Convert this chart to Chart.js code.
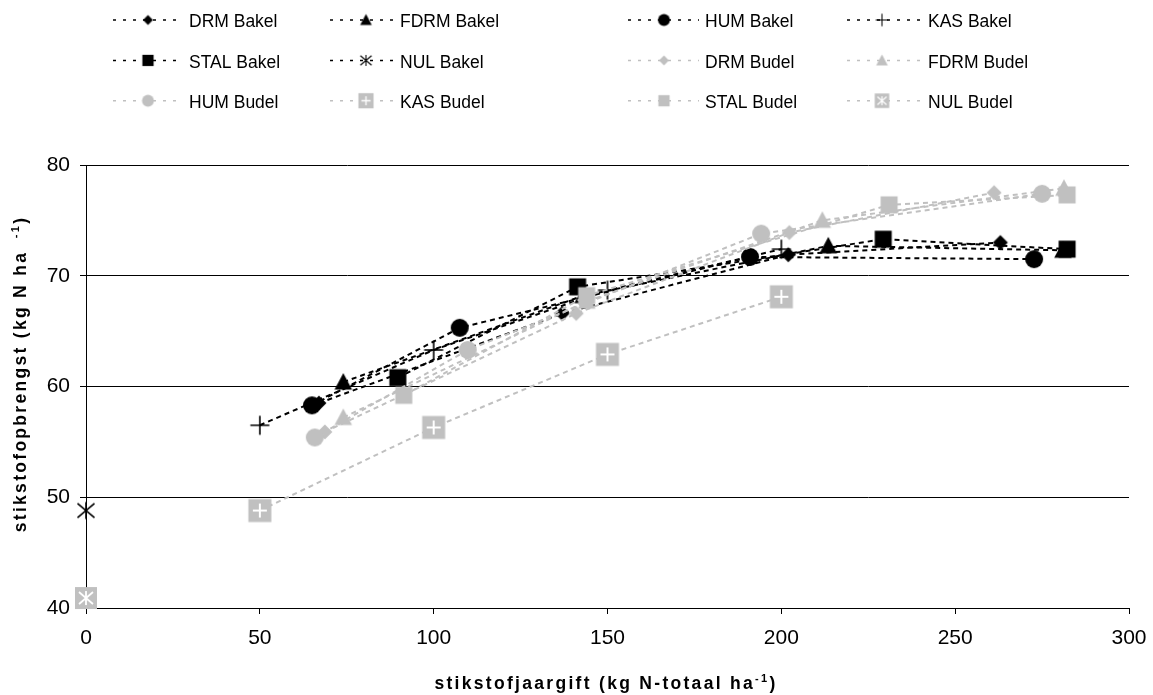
<!DOCTYPE html>
<html>
<head>
<meta charset="utf-8">
<script src="https://cdn.jsdelivr.net/npm/chart.js@4.4.1/dist/chart.umd.min.js"></script>
<style>
  html, body { margin: 0; padding: 0; background: #ffffff; }
  canvas { display: block; }
</style>
</head>
<body>
<canvas id="chart" width="1153" height="695"></canvas>
<script>
// Series names, in legend order
const seriesLabels = [
  'DRM Bakel', 'FDRM Bakel', 'HUM Bakel', 'KAS Bakel', 'STAL Bakel', 'NUL Bakel',
  'DRM Budel', 'FDRM Budel', 'HUM Budel', 'KAS Budel', 'STAL Budel', 'NUL Budel'
];

// N application (kg N-totaal/ha) and N yield (kg N/ha) per treatment
const drmBakelX  = [67, 137, 202, 263];
const drmBakelY  = [58.5, 66.6, 71.9, 73.0];
const fdrmBakelX = [74, 143, 213.5, 281];
const fdrmBakelY = [60.4, 68.2, 72.7, 72.3];
const humBakelX  = [65, 107.5, 191, 272.7];
const humBakelY  = [58.3, 65.3, 71.7, 71.5];
const kasBakelX  = [50, 100, 150, 200];
const kasBakelY  = [56.5, 63.3, 68.7, 72.4];
const stalBakelX = [89.7, 141.4, 229.3, 282.2];
const stalBakelY = [60.8, 69.0, 73.3, 72.4];
const nulBakelX  = [0];
const nulBakelY  = [48.8];

const drmBudelX  = [68.7, 141, 202.3, 261.2];
const drmBudelY  = [55.9, 66.6, 73.9, 77.5];
const fdrmBudelX = [74, 144, 211.8, 281.3];
const fdrmBudelY = [57.2, 67.7, 75.0, 77.9];
const humBudelX  = [65.8, 109.8, 194.2, 275];
const humBudelY  = [55.4, 63.3, 73.8, 77.4];
const kasBudelX  = [50, 100, 150, 200];
const kasBudelY  = [48.8, 56.3, 62.9, 68.1];
const stalBudelX = [91.4, 144, 231, 282.2];
const stalBudelY = [59.2, 68.2, 76.4, 77.3];
const nulBudelX  = [0];
const nulBudelY  = [40.9];

// Axis tick values
const xTicks = [0, 50, 100, 150, 200, 250, 300];
const yTicks = [40, 50, 60, 70, 80];

const seriesX = [drmBakelX, fdrmBakelX, humBakelX, kasBakelX, stalBakelX, nulBakelX,
                 drmBudelX, fdrmBudelX, humBudelX, kasBudelX, stalBudelX, nulBudelX];
const seriesY = [drmBakelY, fdrmBakelY, humBakelY, kasBakelY, stalBakelY, nulBakelY,
                 drmBudelY, fdrmBudelY, humBudelY, kasBudelY, stalBudelY, nulBudelY];

const BLACK = '#000000';
const GREY = '#c0c0c0';
const shapes = ['diamond', 'triangle', 'circle', 'plus', 'square', 'star',
                'diamond', 'triangle', 'circle', 'plusBox', 'square', 'starBox'];
const colors = shapes.map((s, i) => i < 6 ? BLACK : GREY);

// Marker images (drawn once, used both in the plot and in the legend)
function makeMarker(shape, color, k) {
  const size = Math.ceil(28 * k);
  const c = document.createElement('canvas');
  c.width = size; c.height = size;
  const g = c.getContext('2d');
  g.translate(size / 2, size / 2);
  g.scale(k, k);
  g.fillStyle = color;
  g.strokeStyle = color;
  const star = (r, col, lw) => {
    g.strokeStyle = col; g.lineWidth = lw;
    g.beginPath();
    g.moveTo(-r, -r * 0.85); g.lineTo(r, r * 0.85);
    g.moveTo(-r, r * 0.85); g.lineTo(r, -r * 0.85);
    g.moveTo(0, -r); g.lineTo(0, r);
    g.stroke();
  };
  switch (shape) {
    case 'diamond':
      g.beginPath(); g.moveTo(0, -7.5); g.lineTo(7.5, 0); g.lineTo(0, 7.5); g.lineTo(-7.5, 0);
      g.closePath(); g.fill(); break;
    case 'triangle':
      g.beginPath(); g.moveTo(0, -9); g.lineTo(8.8, 7.5); g.lineTo(-8.8, 7.5);
      g.closePath(); g.fill(); break;
    case 'circle':
      g.beginPath(); g.arc(0, 0, 9, 0, Math.PI * 2); g.fill(); break;
    case 'square':
      g.fillRect(-8.5, -8.5, 17, 17); break;
    case 'plus':
      g.lineWidth = 1.6;
      g.beginPath(); g.moveTo(-9.5, 0); g.lineTo(9.5, 0); g.moveTo(0, -9.5); g.lineTo(0, 9.5); g.stroke();
      break;
    case 'star':
      star(8.5, color, 1.6); break;
    case 'plusBox':
      g.fillRect(-11.5, -11.5, 23, 23);
      g.strokeStyle = '#ffffff'; g.lineWidth = 2;
      g.beginPath(); g.moveTo(-7, 0); g.lineTo(7, 0); g.moveTo(0, -7); g.lineTo(0, 7); g.stroke();
      break;
    case 'starBox':
      g.fillRect(-11, -11, 22, 22);
      star(7, '#ffffff', 1.8);
      break;
  }
  return c;
}

const plotMarkers = shapes.map((s, i) => makeMarker(s, colors[i], 1));
const legendMarkers = shapes.map((s, i) => makeMarker(s, colors[i], 0.66));

const datasets = seriesLabels.map((label, i) => ({
  label: label,
  data: seriesX[i].map((x, j) => ({ x: x, y: seriesY[i][j] })),
  showLine: true,
  borderColor: colors[i],
  backgroundColor: colors[i],
  borderWidth: 2,
  borderDash: [5, 4],
  tension: 0,
  pointStyle: plotMarkers[i],
  pointRadius: 6,
  pointHoverRadius: 6,
  clip: false,
  order: seriesLabels.length - i
}));

const FONT = '"Liberation Sans", Arial, Helvetica, sans-serif';

// Legend: four columns, three rows above the plot
const legendCols = [
  { line: 113, mark: 148, text: 189 },
  { line: 330, mark: 366, text: 400 },
  { line: 628, mark: 664, text: 705 },
  { line: 847, mark: 882, text: 928 }
];
const legendBaselines = [27.3, 67.7, 108];

const legendPlugin = {
  id: 'gridLegend',
  afterDraw(chart) {
    const ctx = chart.ctx;
    chart.data.datasets.forEach((ds, i) => {
      const col = legendCols[i % 4];
      const base = legendBaselines[Math.floor(i / 4)];
      const cy = base - 7.3;
      ctx.save();
      ctx.strokeStyle = colors[i];
      ctx.lineWidth = 1.5;
      ctx.setLineDash([3, 7]);
      ctx.beginPath();
      ctx.moveTo(col.line, cy);
      ctx.lineTo(col.text - 6, cy);
      ctx.stroke();
      ctx.setLineDash([]);
      const m = legendMarkers[i];
      ctx.drawImage(m, col.mark - m.width / 2, cy - m.height / 2);
      ctx.fillStyle = '#000000';
      ctx.font = '17.5px ' + FONT;
      ctx.textAlign = 'left';
      ctx.textBaseline = 'alphabetic';
      ctx.fillText(ds.label, col.text, base);
      ctx.restore();
    });
  }
};

// Axis titles with superscript unit exponents
function drawTitle(ctx, parts, cx, cy, angle) {
  ctx.save();
  ctx.translate(cx, cy);
  ctx.rotate(angle);
  ctx.letterSpacing = '2.3px';
  const mainFont = 'bold 17.5px ' + FONT;
  const supFont = 'bold 11px ' + FONT;
  let total = 0;
  parts.forEach(p => { ctx.font = p.sup ? supFont : mainFont; total += ctx.measureText(p.t).width; });
  let x = -total / 2;
  ctx.fillStyle = '#000000';
  ctx.textBaseline = 'alphabetic';
  ctx.textAlign = 'left';
  parts.forEach(p => {
    ctx.font = p.sup ? supFont : mainFont;
    ctx.fillText(p.t, x, p.sup ? -7 : 0);
    x += ctx.measureText(p.t).width;
  });
  ctx.restore();
}

const titlePlugin = {
  id: 'axisTitles',
  afterDraw(chart) {
    const ctx = chart.ctx;
    drawTitle(ctx, [
      { t: 'stikstofjaargift (kg N-totaal ha' },
      { t: '-1', sup: true },
      { t: ')' }
    ], 606, 689, 0);
    drawTitle(ctx, [
      { t: 'stikstofopbrengst (kg N ha ' },
      { t: ' -1', sup: true },
      { t: ')' }
    ], 26, 374, -Math.PI / 2);
  }
};

new Chart(document.getElementById('chart'), {
  type: 'scatter',
  data: { datasets: datasets },
  plugins: [legendPlugin, titlePlugin],
  options: {
    responsive: false,
    animation: false,
    devicePixelRatio: 1,
    layout: { padding: { top: 165, right: 24, left: 0, bottom: 0 } },
    plugins: {
      legend: { display: false },
      tooltip: { enabled: false },
      title: { display: false }
    },
    scales: {
      x: {
        type: 'linear',
        min: xTicks[0],
        max: xTicks[xTicks.length - 1],
        afterBuildTicks(scale) { scale.ticks = xTicks.map(v => ({ value: v })); },
        afterFit(scale) { scale.height = 87; scale.paddingLeft = 0; scale.paddingRight = 0; },
        ticks: { font: { family: FONT, size: 21 }, color: '#000000', padding: 12, maxRotation: 0 },
        grid: { drawOnChartArea: false, drawTicks: true, tickLength: 6, color: '#000000', lineWidth: 1 },
        border: { display: true, color: '#000000', width: 1 }
      },
      y: {
        type: 'linear',
        min: yTicks[0],
        max: yTicks[yTicks.length - 1],
        afterBuildTicks(scale) { scale.ticks = yTicks.map(v => ({ value: v })); },
        afterFit(scale) { scale.width = 86; scale.paddingTop = 0; scale.paddingBottom = 0; },
        ticks: { font: { family: FONT, size: 21 }, color: '#000000', padding: 10 },
        grid: { drawOnChartArea: true, drawTicks: true, tickLength: 6, color: '#000000', lineWidth: 1 },
        border: { display: true, color: '#000000', width: 1 }
      }
    }
  }
});
</script>
</body>
</html>
